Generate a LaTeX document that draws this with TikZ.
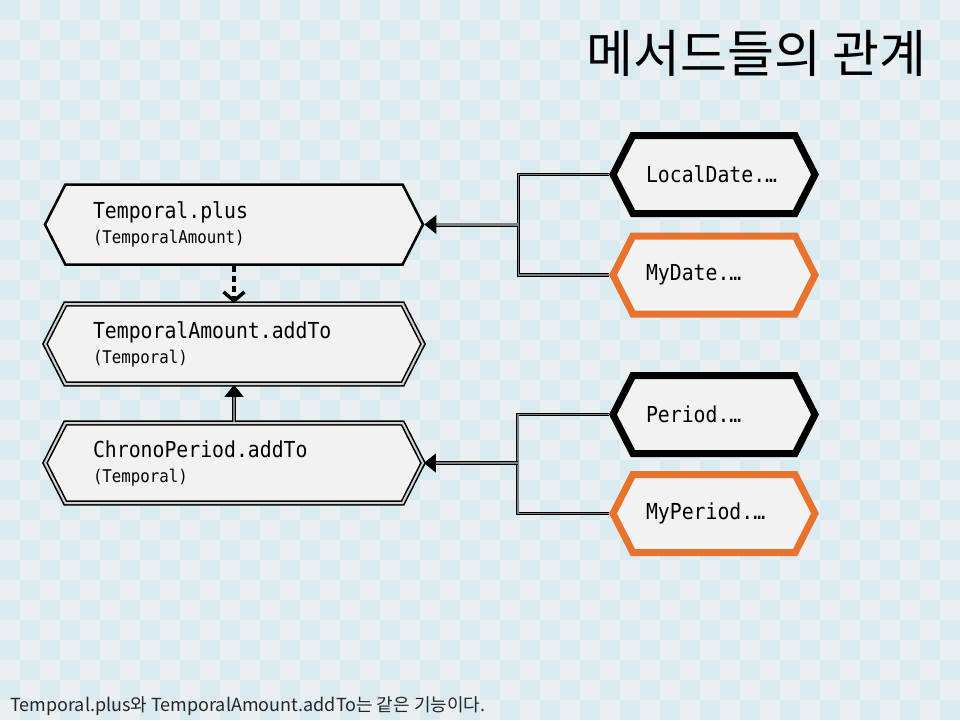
\documentclass[tikz,border=0pt]{standalone}
\usepackage{fontspec}
\newfontfamily\codefont[FakeStretch=0.9]{DejaVu Sans Mono}
\newfontfamily\krfont{Noto Sans CJK KR}
\usetikzlibrary{shapes.symbols,arrows.meta}
\definecolor{bgA}{HTML}{EAF0F1}
\definecolor{bgB}{HTML}{D9EAF0}
\definecolor{hexfill}{HTML}{F2F2F2}
\definecolor{orangeline}{HTML}{E8732F}
\newcommand{\smallcode}{\fontsize{17.5}{25}\selectfont}
\begin{document}
\begin{tikzpicture}[x=1pt,y=-1pt,
  hexbase/.style={shape=signal, signal to=east and west, signal pointer angle=126,
    fill=hexfill, inner sep=0pt, align=left,
    font=\codefont\fontsize{22}{25}\selectfont},
  hexleft/.style={hexbase, minimum width=378pt, minimum height=80pt, text width=282pt},
  hexright/.style={hexbase, minimum width=202pt, minimum height=78pt, text width=136pt},
  plainborder/.style={draw=black, line width=2.5pt},
  doubleborder/.style={draw=black, line width=1.6pt, double=gray!35, double distance=2pt},
  boldborder/.style={draw=black, line width=7pt},
  orangeborder/.style={draw=orangeline, line width=7pt},
  conn/.style={draw=black, line width=0.8pt, double=gray, double distance=1.5pt},
  mainconn/.style={draw=black, line width=0.9pt, double=gray, double distance=2.2pt,
    -{Triangle[length=12pt,width=19pt]}},
  dashconn/.style={draw=black, line width=3.5pt, dash pattern=on 6pt off 4pt,
    -{Straight Barb[length=9pt,width=21pt]}}
]
\useasboundingbox (0,0) rectangle (960,720);
% checkerboard background
\fill[bgA] (0,0) rectangle (960,720);
\foreach \i in {0,40,...,920}{
  \foreach \j in {0,40,...,680}{
    \fill[bgB] (\i,\j) rectangle ++(20,20);
    \fill[bgB] (\i+20,\j+20) rectangle ++(20,20);
  }
}
% title and note
\node[font=\krfont\fontsize{51}{54}\selectfont, anchor=east, inner sep=0pt] (title) at (927,53) {메서드들의 관계};
\node[font=\krfont\fontsize{18}{20}\selectfont, anchor=base west, inner sep=0pt, text=black!85] (note) at (10,711)
  {Temporal.plus와 TemporalAmount.addTo는 같은 기능이다.};
% left hexagons
\node[hexleft, plainborder] (tp) at (234,224.5) {Temporal.plus\\{\smallcode (TemporalAmount)}};
\node[hexleft, doubleborder] (ta) at (234,344) {TemporalAmount.addTo\\{\smallcode (Temporal)}};
\node[hexleft, doubleborder] (cp) at (234,463) {ChronoPeriod.addTo\\{\smallcode (Temporal)}};
% right hexagons
\node[hexright, boldborder] (ld) at (714,174.5) {LocalDate.…};
\node[hexright, orangeborder] (md) at (714,275) {MyDate.…};
\node[hexright, boldborder] (pd) at (714,414.5) {Period.…};
\node[hexright, orangeborder] (mp) at (714,513.5) {MyPeriod.…};
% connectors
\path (tp.east) ++(94,0) coordinate (j1);
\path (cp.east) ++(94,0) coordinate (j2);
\draw[conn] (ld.west) -| (j1) |- (md.west);
\draw[conn] (pd.west) -| (j2) |- (mp.west);
\draw[mainconn] (j1) -- (tp.east);
\draw[mainconn] (j2) -- (cp.east);
\draw[dashconn] (tp.south) -- (ta.north);
\draw[mainconn, line width=0.8pt, double distance=1.5pt] (cp.north) -- (ta.south);
\end{tikzpicture}
\end{document}
